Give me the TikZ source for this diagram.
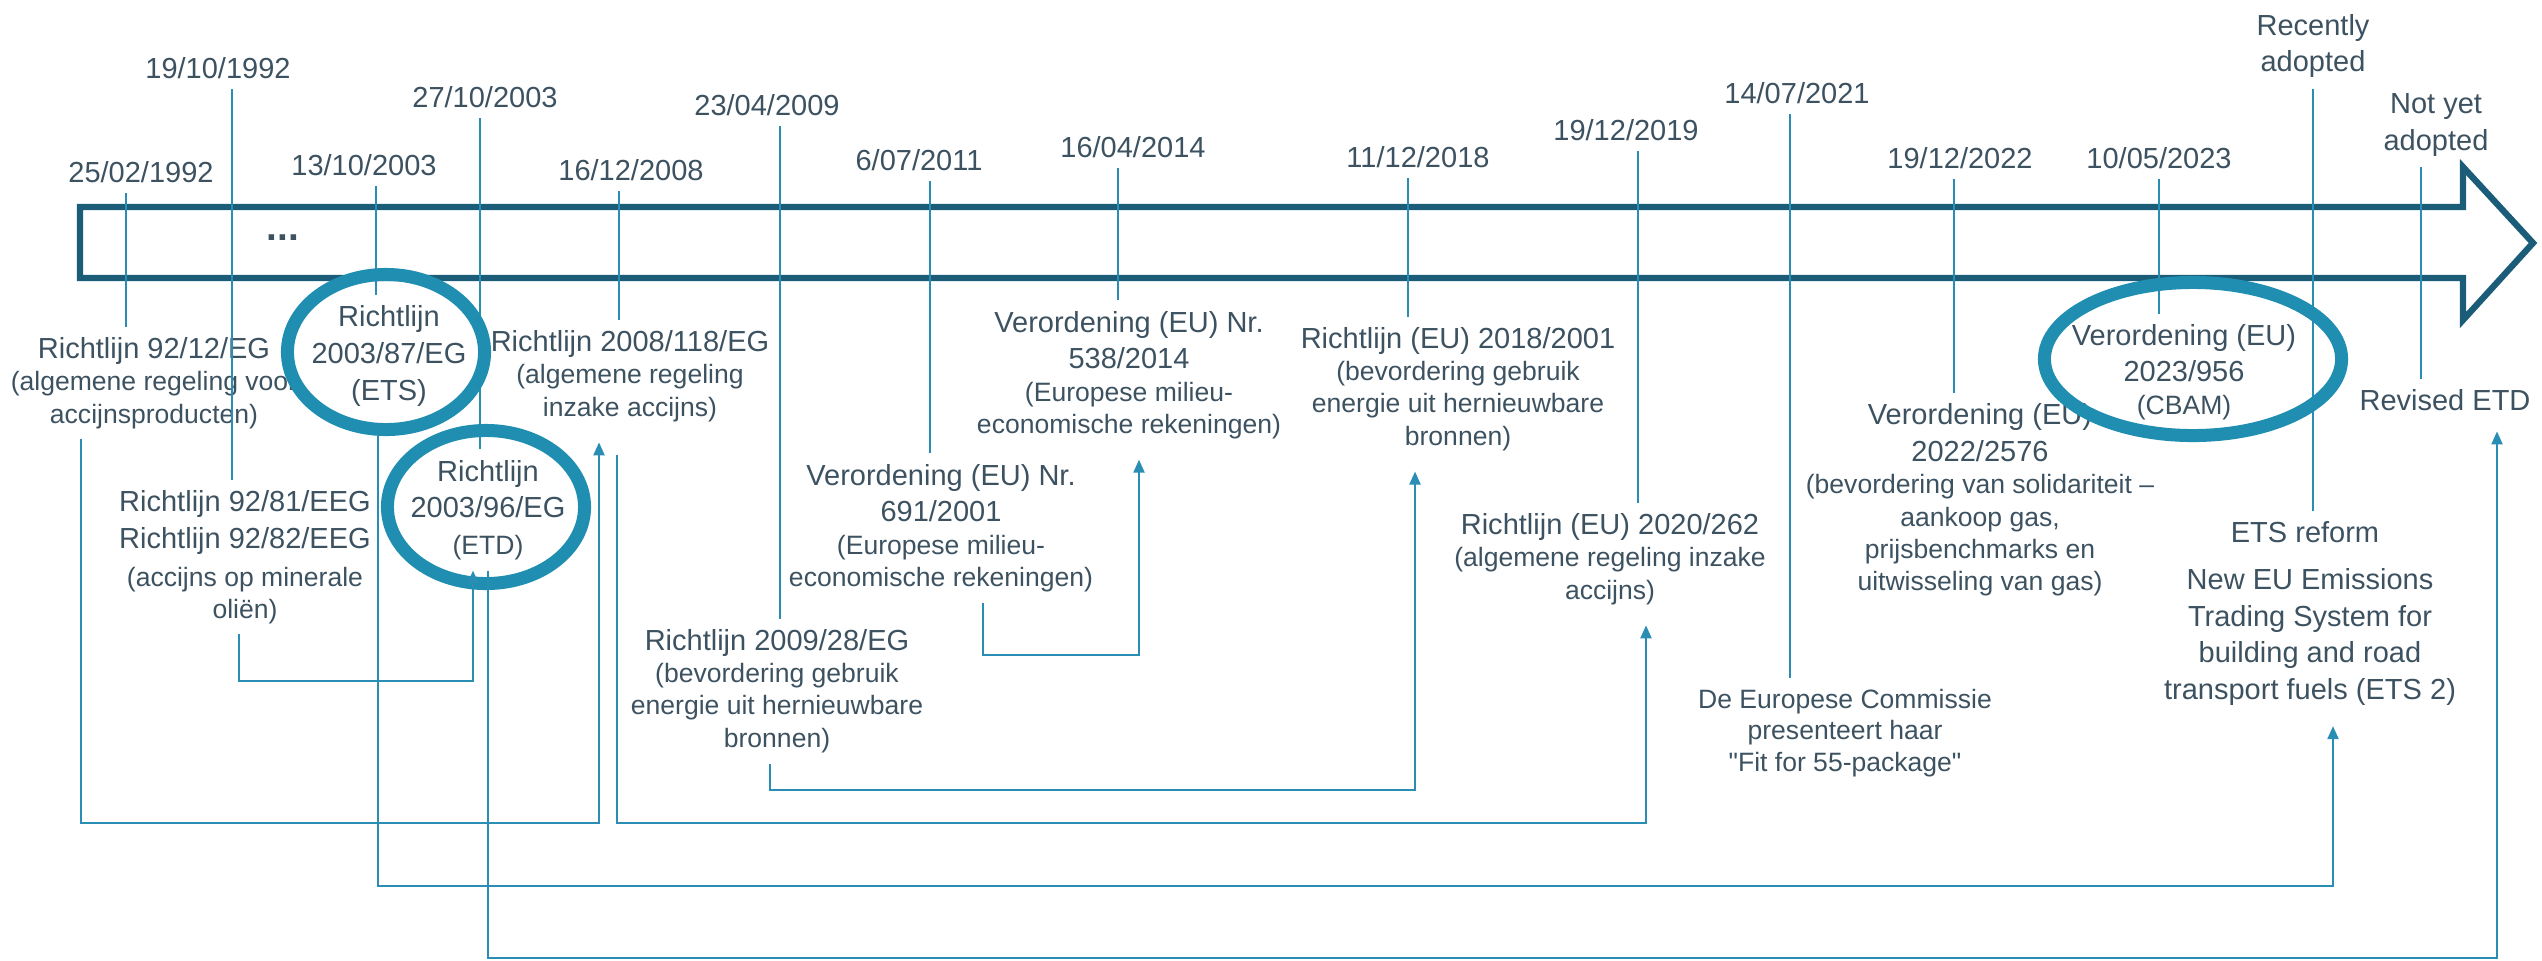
\documentclass[tikz,border=0pt]{standalone}
\usepackage{fontspec}
\setmainfont{Liberation Sans}
\usepackage{tikz}
\usetikzlibrary{arrows.meta,shapes.geometric}

\definecolor{inkc}{HTML}{3D5261}
\definecolor{lnkc}{HTML}{2A8DB4}
\definecolor{ringc}{HTML}{1F8EB0}
\definecolor{bandc}{HTML}{1B5D78}

\newcommand\evbig{\fontsize{8.25pt}{10.4pt}\selectfont}
\newcommand\evsub{\fontsize{7.55pt}{9pt}\selectfont}

\tikzset{every picture/.style={x=0.01cm,y=-0.01cm}}
\tikzset{
  datelbl/.style={font=\evbig, text=inkc, align=center, inner sep=1mm},
  evtxt/.style={font=\evbig, text=inkc, align=center, inner sep=1mm},
  tickln/.style={draw=lnkc, line width=0.6pt},
  linkarr/.style={draw=lnkc, line width=0.6pt, -{Triangle[length=1.3mm,width=1.1mm]}, shorten >=1mm},
  ringmark/.style={draw=ringc, line width=3.7pt, ellipse, inner sep=0pt},
  bandarr/.style={draw=bandc, line width=1.8pt},
}

\begin{document}
\begin{tikzpicture}
    \useasboundingbox (0,0) rectangle (2542,960);
    % dates above the axis
    \node[datelbl] (d1) at (141,172) {25/02/1992};
    \node[datelbl] (d2) at (218,68) {19/10/1992};
    \node[datelbl] (d3) at (364,165) {13/10/2003};
    \node[datelbl] (d4) at (485,97) {27/10/2003};
    \node[datelbl] (d5) at (631,170) {16/12/2008};
    \node[datelbl] (d6) at (767,105) {23/04/2009};
    \node[datelbl] (d7) at (919,160) {6/07/2011};
    \node[datelbl] (d8) at (1133,147) {16/04/2014};
    \node[datelbl] (d9) at (1418,157) {11/12/2018};
    \node[datelbl] (d10) at (1626,130) {19/12/2019};
    \node[datelbl] (d11) at (1797,93) {14/07/2021};
    \node[datelbl] (d12) at (1960,158) {19/12/2022};
    \node[datelbl] (d13) at (2159,158) {10/05/2023};
    \node[datelbl] (d14) at (2313,46) {Recently\\adopted};
    \node[datelbl] (d15) at (2436,125) {Not yet\\adopted};

    % texts below the axis
    \node[evtxt] (t9212) at (154,383) {Richtlijn 92/12/EG\\[-1.2pt]\evsub (algemene regeling voor\\[-1.2pt]\evsub accijnsproducten)};
    \node[evtxt] (ets) at (389,356) {Richtlijn\\2003/87/EG\\(ETS)};
    \node[evtxt] (t9281) at (245,557) {Richtlijn 92/81/EEG\\Richtlijn 92/82/EEG\\[0.6pt]\evsub (accijns op minerale\\[-1.5pt]\evsub oliën)};
    \node[evtxt] (etd) at (488,510) {Richtlijn\\2003/96/EG\\\evsub (ETD)};
    \node[evtxt] (t08118) at (630,376) {Richtlijn 2008/118/EG\\[-1.2pt]\evsub (algemene regeling\\[-1.2pt]\evsub inzake accijns)};
    \node[evtxt] (t0928) at (777,691) {Richtlijn 2009/28/EG\\[-1.2pt]\evsub (bevordering gebruik\\[-1.2pt]\evsub energie uit hernieuwbare\\[-1.2pt]\evsub bronnen)};
    \node[evtxt] (v691) at (941,528) {Verordening (EU) Nr.\\691/2001\\[-1.2pt]\evsub (Europese milieu-\\[-1.2pt]\evsub economische rekeningen)};
    \node[evtxt] (v538) at (1129,375) {Verordening (EU) Nr.\\538/2014\\[-1.2pt]\evsub (Europese milieu-\\[-1.2pt]\evsub economische rekeningen)};
    \node[evtxt] (r1820) at (1458,389) {Richtlijn (EU) 2018/2001\\[-1.2pt]\evsub (bevordering gebruik\\[-1.2pt]\evsub energie uit hernieuwbare\\[-1.2pt]\evsub bronnen)};
    \node[evtxt] (r20262) at (1610,559) {Richtlijn (EU) 2020/262\\[-1.2pt]\evsub (algemene regeling inzake\\[-1.2pt]\evsub accijns)};
    \node[evtxt, font=\evsub] (fit55) at (1845,733) {De Europese Commissie\\presenteert haar\\\textquotedbl Fit for 55-package\textquotedbl};
    \node[evtxt] (v2576) at (1980,500) {Verordening (EU)\\2022/2576\\[-1.2pt]\evsub (bevordering van solidariteit --\\[-1.2pt]\evsub aankoop gas,\\[-1.2pt]\evsub prijsbenchmarks en\\[-1.2pt]\evsub uitwisseling van gas)};
    \node[evtxt] (cbam) at (2184,372) {Verordening (EU)\\2023/956\\[-1.2pt]\evsub (CBAM)};
    \node[evtxt] (etsref) at (2305,532) {ETS reform};
    \node[evtxt] (revetd) at (2445,400) {Revised ETD};
    \node[evtxt] (ets2) at (2310,637) {New EU Emissions\\Trading System for\\building and road\\transport fuels (ETS 2)};

    % time axis
    \draw[bandarr] (80,207) -- (2463,207) -- (2463,167) -- (2533,243) -- (2463,320) -- (2463,278) -- (80,278) -- cycle;
    \node[font=\fontsize{11pt}{11pt}\selectfont\bfseries, text=inkc] (dots) at (283,238) {...};

    % ticks
    \draw[tickln] ([xshift=-1.5mm]d1.south) -- ([xshift=-1.5mm]d1.south |- t9212.north);
    \draw[tickln] ([xshift=1.4mm]d2.south) -- ([xshift=1.4mm]d2.south |- t9281.north);
    \draw[tickln] ([xshift=1.2mm]d3.south) -- ([xshift=1.2mm]d3.south |- ets.north);
    \draw[tickln] ([xshift=-0.5mm]d4.south) -- ([xshift=-0.5mm]d4.south |- etd.north);
    \draw[tickln] ([xshift=-1.2mm]d5.south) -- ([xshift=-1.2mm]d5.south |- t08118.north);
    \draw[tickln] ([xshift=1.3mm]d6.south) -- ([xshift=1.3mm]d6.south |- t0928.north);
    \draw[tickln] ([xshift=1.1mm]d7.south) -- ([xshift=1.1mm]d7.south |- v691.north);
    \draw[tickln] ([xshift=-1.5mm]d8.south) -- ([xshift=-1.5mm]d8.south |- v538.north);
    \draw[tickln] ([xshift=-1mm]d9.south) -- ([xshift=-1mm]d9.south |- r1820.north);
    \draw[tickln] ([xshift=1.2mm]d10.south) -- ([xshift=1.2mm]d10.south |- r20262.north);
    \draw[tickln] ([xshift=-0.7mm]d11.south) -- ([xshift=-0.7mm]d11.south |- fit55.north);
    \draw[tickln] ([xshift=-0.6mm]d12.south) -- ([xshift=-0.6mm]d12.south |- v2576.north);
    \draw[tickln] (d13.south) -- (d13.south |- cbam.north);
    \draw[tickln] (d14.south) -- (d14.south |- etsref.north);
    \draw[tickln] ([xshift=-1.5mm]d15.south) -- ([xshift=-1.5mm]d15.south |- revetd.north);

    % highlights
    \node[ringmark, minimum width=1.97cm, minimum height=1.55cm] (ringets) at (386,352) {};
    \node[ringmark, minimum width=1.97cm, minimum height=1.53cm] (ringetd) at (486,507) {};
    \node[ringmark, minimum width=2.97cm, minimum height=1.53cm] (ringcbam) at (2193,359) {};

    % links between acts
    \coordinate (c1a) at (81,823);   \coordinate (c1b) at (599,823);
    \coordinate (c2a) at (239,681);  \coordinate (c2b) at (473,681);
    \coordinate (c3a) at (617,823);  \coordinate (c3b) at (1646,823);
    \coordinate (c4a) at (378,886);  \coordinate (c4b) at (2333,886);
    \coordinate (c5a) at (488,958);  \coordinate (c5b) at (2497,958);
    \coordinate (c6a) at (983,655);  \coordinate (c6b) at (1139,655);
    \coordinate (c7a) at (770,790);  \coordinate (c7b) at (1415,790);
    \draw[linkarr] (t9212.south -| c1a) -- (c1a) -- (c1b) -- (c1b |- t08118.south);
    \draw[linkarr, shorten >=0pt] (t9281.south -| c2a) -- (c2a) -- (c2b) -- (c2b |- etd.south);
    \draw[linkarr, shorten <=2.3mm] (t08118.south -| c3a) -- (c3a) -- (c3b) -- (c3b |- r20262.south);
    \draw[linkarr] (ringets.south -| c4a) -- (c4a) -- (c4b) -- (c4b |- ets2.south);
    \draw[linkarr] (etd.south -| c5a) -- (c5a) -- (c5b) -- (c5b |- revetd.south);
    \draw[linkarr] (v691.south -| c6a) -- (c6a) -- (c6b) -- (c6b |- v538.south);
    \draw[linkarr] (t0928.south -| c7a) -- (c7a) -- (c7b) -- (c7b |- r1820.south);
\end{tikzpicture}
\end{document}
